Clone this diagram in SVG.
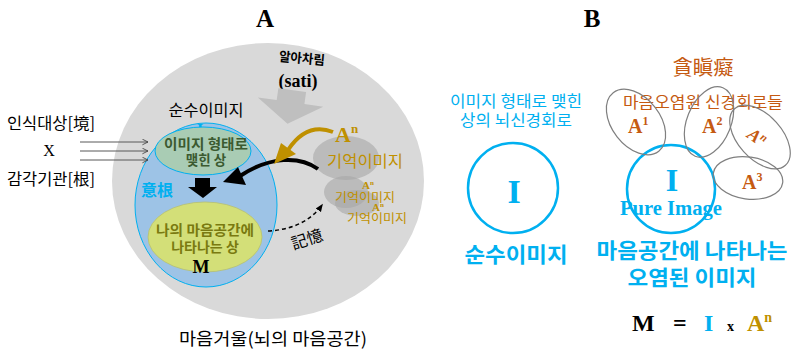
<svg xmlns="http://www.w3.org/2000/svg" width="791" height="353" viewBox="0 0 791 353">
<style>
.kr{font-family:"Noto Sans CJK KR","Noto Sans",sans-serif}
.sf{font-family:"Liberation Serif","Times New Roman",serif;font-weight:bold}
.blue{fill:#00b0f0}
.gold{fill:#bf9000}
.orange{fill:#c55a11}
.mem{fill:#a6a6a6;fill-opacity:0.6}
.ring{fill:none;stroke:#7f7f7f;stroke-width:1.2}
</style>
<defs>
<marker id="open" viewBox="0 0 10 10" refX="9" refY="5" markerWidth="7" markerHeight="7" orient="auto" markerUnits="userSpaceOnUse">
<path d="M1,1 L9,5 L1,9" fill="none" stroke="#404040" stroke-width="1.2"/>
</marker>
<marker id="dashhead" viewBox="0 0 10 10" refX="8" refY="5" markerWidth="8" markerHeight="8" orient="auto" markerUnits="userSpaceOnUse">
<path d="M0,1 L10,5 L0,9 Z" fill="#000"/>
</marker>
</defs>

<text x="265" y="27" class="sf" font-size="25" text-anchor="middle">A</text>
<text x="592" y="27" class="sf" font-size="25" text-anchor="middle">B</text>

<g id="mind-mirror">
<ellipse cx="268" cy="181" rx="156" ry="138" fill="#d9d9d9"/>
<text x="273" y="345" class="kr" font-size="17.5" text-anchor="middle" textLength="188" lengthAdjust="spacingAndGlyphs">마음거울(뇌의 마음공간)</text>
</g>

<g id="sati">
<text x="302" y="63" class="kr" font-size="13" font-weight="bold" text-anchor="middle" transform="rotate(5 302 58)" textLength="46" lengthAdjust="spacingAndGlyphs">알아차림</text>
<text x="298" y="87" class="sf" font-size="18" text-anchor="middle">(sati)</text>
<polygon points="-14,-16 14,-16 14,-4 33,-4 0,18 -33,-4 -14,-4" fill="#bfbfbf" transform="translate(290 106) rotate(8)"/>
</g>

<g id="manas">
<ellipse cx="206" cy="205" rx="71" ry="82" fill="#9dc3e6" stroke="#00b0f0" stroke-width="1"/>
<text x="206" y="116" class="kr" font-size="16" text-anchor="middle" textLength="75" lengthAdjust="spacingAndGlyphs">순수이미지</text>
<text x="200" y="135" class="sf blue" font-size="17" text-anchor="middle">I</text>
<text x="157" y="196" class="kr blue" font-size="16" font-weight="bold" text-anchor="middle">意根</text>
</g>

<g id="image-formed">
<ellipse cx="203" cy="151" rx="48" ry="24" fill="#a9ccb4" stroke="#00b0f0" stroke-width="1"/>
<text x="206" y="149" class="kr" font-size="13.5" font-weight="bold" fill="#3b5a30" text-anchor="middle" textLength="84" lengthAdjust="spacingAndGlyphs">이미지 형태로</text>
<text x="206" y="165" class="kr" font-size="13.5" font-weight="bold" fill="#3b5a30" text-anchor="middle">맺힌 상</text>
</g>

<g id="mind-image">
<ellipse cx="205" cy="237" rx="57" ry="35" fill="#d3df78" stroke="#b8c070" stroke-width="0.8"/>
<text x="205" y="235" class="kr" font-size="14" font-weight="bold" fill="#7a7a10" text-anchor="middle" textLength="98" lengthAdjust="spacingAndGlyphs">나의 마음공간에</text>
<text x="205" y="252" class="kr" font-size="14" font-weight="bold" fill="#7a7a10" text-anchor="middle">나타나는 상</text>
<text x="201" y="273" class="sf" font-size="18" text-anchor="middle">M</text>
</g>

<g id="memory">
<ellipse cx="346" cy="158" rx="33" ry="22" class="mem"/>
<ellipse cx="346" cy="192" rx="22" ry="16" class="mem"/>
<ellipse cx="357" cy="203" rx="22" ry="13" class="mem"/>
<text x="335" y="142" class="sf gold" font-size="22">A<tspan font-size="13" dy="-9">n</tspan></text>
<text x="365" y="167" class="kr gold" font-size="16" text-anchor="middle" textLength="76" lengthAdjust="spacingAndGlyphs">기억이미지</text>
<text x="362" y="189" class="sf gold" font-size="11">A<tspan font-size="7" dy="-4">n</tspan></text>
<text x="365" y="202" class="kr gold" font-size="12.5" text-anchor="middle" textLength="60" lengthAdjust="spacingAndGlyphs">기억이미지</text>
<text x="372" y="211" class="sf gold" font-size="11">A<tspan font-size="7" dy="-4">n</tspan></text>
<text x="377" y="223" class="kr gold" font-size="12.5" text-anchor="middle" textLength="60" lengthAdjust="spacingAndGlyphs">기억이미지</text>
</g>

<g id="inputs">
<text x="51" y="129" class="kr" font-size="16" text-anchor="middle" textLength="88" lengthAdjust="spacingAndGlyphs">인식대상[境]</text>
<text x="49" y="156" font-family="Liberation Serif,serif" font-size="16" text-anchor="middle">X</text>
<text x="51" y="185" class="kr" font-size="16" text-anchor="middle" textLength="88" lengthAdjust="spacingAndGlyphs">감각기관[根]</text>
</g>

<g id="connectors">
<line x1="80" y1="142" x2="148" y2="142" stroke="#595959" stroke-width="1" marker-end="url(#open)"/>
<line x1="80" y1="151" x2="148" y2="151" stroke="#595959" stroke-width="1" marker-end="url(#open)"/>
<line x1="80" y1="160" x2="148" y2="160" stroke="#595959" stroke-width="1" marker-end="url(#open)"/>
<polygon points="195,178 210,178 210,187 217,187 203,198 188,187 195,187" fill="#000"/>
<path d="M318,169 C300,156 270,156 240,176" fill="none" stroke="#000" stroke-width="4"/>
<polygon points="223,182 238,167 246,185" fill="#000"/>
<path d="M333,132 C315,125 300,132 288,150" fill="none" stroke="#bf9000" stroke-width="4"/>
<polygon points="274,164 281,143 296,154" fill="#bf9000"/>
<path d="M268,231 C290,230 310,222 322,205" fill="none" stroke="#000" stroke-width="1.5" stroke-dasharray="4,3" marker-end="url(#dashhead)"/>
<text x="307" y="245" class="kr" font-size="16" text-anchor="middle" transform="rotate(-18 307 239)">記憶</text>
</g>

<g id="pure-image">
<text x="516" y="107" class="kr blue" font-size="16" text-anchor="middle" textLength="132" lengthAdjust="spacingAndGlyphs">이미지 형태로 맺힌</text>
<text x="516" y="126" class="kr blue" font-size="16" text-anchor="middle" textLength="112" lengthAdjust="spacingAndGlyphs">상의 뇌신경회로</text>
<circle cx="513" cy="188" r="45" fill="none" stroke="#00b0f0" stroke-width="2.5"/>
<text x="514" y="203" class="sf blue" font-size="34" text-anchor="middle">I</text>
<text x="516" y="262" class="kr blue" font-size="21" font-weight="bold" text-anchor="middle" textLength="103" lengthAdjust="spacingAndGlyphs">순수이미지</text>
</g>

<g id="defiled-image">
<text x="703" y="75" class="kr orange" font-size="20" text-anchor="middle" textLength="61" lengthAdjust="spacingAndGlyphs">貪瞋癡</text>
<text x="703" y="108" class="kr orange" font-size="16" text-anchor="middle" textLength="160" lengthAdjust="spacingAndGlyphs">마음오염원 신경회로들</text>
<circle cx="671" cy="189" r="44" fill="none" stroke="#00b0f0" stroke-width="2.5"/>
<ellipse cx="636" cy="122" rx="37" ry="24" class="ring" transform="rotate(52 636 122)"/>
<ellipse cx="709" cy="122" rx="37" ry="22" class="ring" transform="rotate(-68 709 122)"/>
<ellipse cx="760" cy="137" rx="38" ry="22" class="ring" transform="rotate(48 760 137)"/>
<ellipse cx="748" cy="178" rx="35" ry="21" class="ring" transform="rotate(8 748 178)"/>
<text x="628" y="133" class="sf orange" font-size="20">A<tspan font-size="12" dy="-8">1</tspan></text>
<text x="702" y="133" class="sf orange" font-size="20">A<tspan font-size="12" dy="-8">2</tspan></text>
<text x="757" y="143" class="sf orange" font-size="18" font-style="italic" text-anchor="middle" transform="rotate(35 757 137)">A<tspan font-size="11" dy="-6">n</tspan></text>
<text x="742" y="189" class="sf orange" font-size="20">A<tspan font-size="12" dy="-8">3</tspan></text>
<text x="672" y="191" class="sf blue" font-size="32" text-anchor="middle">I</text>
<text x="671" y="215" class="sf blue" font-size="20" text-anchor="middle" textLength="102" lengthAdjust="spacingAndGlyphs">Pure Image</text>
<text x="692" y="258" class="kr blue" font-size="21" font-weight="bold" text-anchor="middle" textLength="191" lengthAdjust="spacingAndGlyphs">마음공간에 나타나는</text>
<text x="692" y="285" class="kr blue" font-size="21" font-weight="bold" text-anchor="middle" textLength="129" lengthAdjust="spacingAndGlyphs">오염된 이미지</text>
</g>

<g id="formula">
<text x="632" y="331" class="sf" font-size="24">M</text>
<text x="673" y="331" class="sf" font-size="24">=</text>
<text x="704" y="331" class="sf blue" font-size="24">I</text>
<text x="727" y="331" class="sf" font-size="14">x</text>
<text x="747" y="331" class="sf gold" font-size="24">A<tspan font-size="14" dy="-9">n</tspan></text>
</g>
</svg>
